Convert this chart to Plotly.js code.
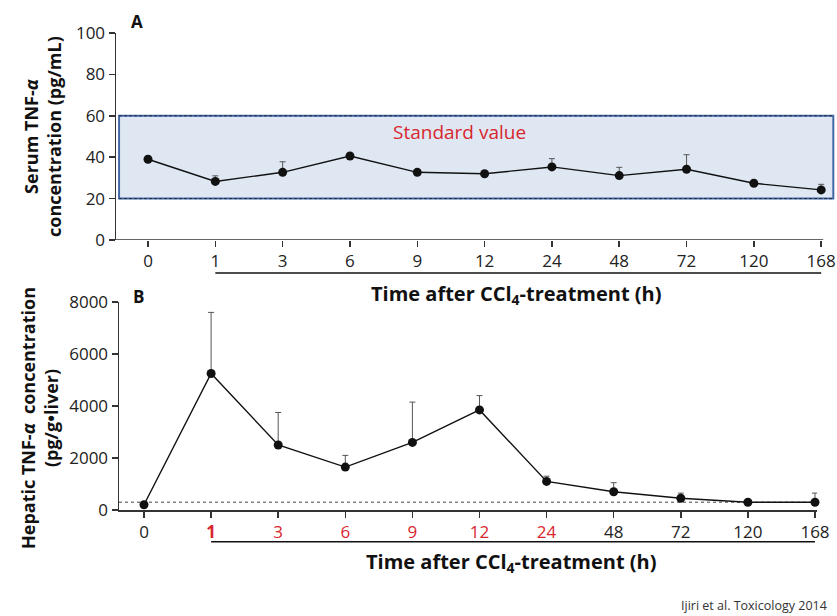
<!DOCTYPE html>
<html>
<head>
<meta charset="utf-8">
<script src="https://cdn.plot.ly/plotly-3.0.1.min.js"></script>
<style>
  html, body { margin: 0; padding: 0; background: #fff; }
  #chart { width: 837px; height: 616px; }
</style>
</head>
<body>
<div id="chart"></div>
<script>
// Sampling times after CCl4 treatment (h)
const hours = ['0', '1', '3', '6', '9', '12', '24', '48', '72', '120', '168'];

// Panel A: serum TNF-alpha (pg/mL), mean and upper SE
const serumMean = [39.0, 28.3, 32.7, 40.6, 32.7, 32.0, 35.3, 31.1, 34.2, 27.4, 24.2];
const serumErr  = [0, 2.7, 5.1, 0, 0, 0, 4.0, 4.0, 7.0, 0, 2.7];

// Normal (standard) range of serum TNF-alpha
const standardRange = [20, 60];

// Panel B: hepatic TNF-alpha (pg/g liver), mean and upper SE
const hepaticMean = [200, 5250, 2500, 1650, 2600, 3850, 1100, 700, 450, 300, 300];
const hepaticErr  = [0, 2350, 1250, 450, 1550, 550, 200, 350, 200, 0, 350];

// Detection limit shown as a dashed line in panel B
const detectionLimit = 300;

// Time points highlighted in red in panel B
const highlightHours = ['1', '3', '6', '9', '12', '24'];

const FONT = '"Open Sans", "Noto Sans", "DejaVu Sans", sans-serif';
const RED = '#d8262e';
const INK = '#222';

const bTickText = hours.map(h => {
  if (!highlightHours.includes(h)) return h;
  const t = h === '1' ? '<b>' + h + '</b>' : h;
  return '<span style="color:' + RED + '">' + t + '</span>';
});

const seriesStyle = {
  mode: 'lines+markers',
  line: { color: '#111', width: 1.4 },
  marker: { color: '#111', size: 9 },
  cliponaxis: false,
  showlegend: false,
  hoverinfo: 'x+y'
};

const traceA = Object.assign({}, seriesStyle, {
  x: hours, y: serumMean, xaxis: 'x', yaxis: 'y',
  error_y: { type: 'data', symmetric: false, array: serumErr,
             arrayminus: serumErr.map(() => 0),
             color: '#555', thickness: 1, width: 3 }
});

const traceB = Object.assign({}, seriesStyle, {
  x: hours, y: hepaticMean, xaxis: 'x2', yaxis: 'y2',
  error_y: { type: 'data', symmetric: false, array: hepaticErr,
             arrayminus: hepaticErr.map(() => 0),
             color: '#555', thickness: 1, width: 3 }
});

const tickFont = { family: FONT, size: 17, color: INK };

const layout = {
  width: 837, height: 616,
  margin: { l: 0, r: 0, t: 0, b: 0 },
  paper_bgcolor: '#fff', plot_bgcolor: 'rgba(0,0,0,0)',
  font: { family: FONT, color: INK },
  showlegend: false,
  xaxis: {
    type: 'category', domain: [116 / 837, 836 / 837], range: [-0.4755, 10.22],
    anchor: 'y', showline: false, showgrid: false, zeroline: false,
    ticks: 'outside', ticklen: 6, tickwidth: 1.5, tickcolor: '#333',
    tickfont: tickFont, fixedrange: true
  },
  yaxis: {
    domain: [1 - 240 / 616, 1 - 33 / 616], range: [0, 100],
    anchor: 'x', tickvals: [0, 20, 40, 60, 80, 100],
    showline: true, linecolor: '#333', linewidth: 1.5,
    showgrid: false, zeroline: false,
    ticks: 'outside', ticklen: 6, tickwidth: 1.5, tickcolor: '#333',
    tickfont: tickFont, fixedrange: true
  },
  xaxis2: {
    type: 'category', domain: [119 / 837, 817 / 837], range: [-0.3726, 10.03],
    anchor: 'y2', showline: true, linecolor: '#333', linewidth: 1.5,
    showgrid: false, zeroline: false,
    ticks: 'outside', ticklen: 6, tickwidth: 1.5, tickcolor: '#333',
    tickmode: 'array', tickvals: hours, ticktext: bTickText,
    tickfont: tickFont, fixedrange: true
  },
  yaxis2: {
    domain: [1 - 510 / 616, 1 - 302 / 616], range: [0, 8000],
    anchor: 'x2', tickvals: [0, 2000, 4000, 6000, 8000],
    showline: true, linecolor: '#333', linewidth: 1.5,
    showgrid: false, zeroline: false,
    ticks: 'outside', ticklen: 6, tickwidth: 1.5, tickcolor: '#333',
    tickfont: tickFont, fixedrange: true
  },
  shapes: [
    // standard-value band
    { type: 'rect', layer: 'below', xref: 'x', yref: 'y',
      x0: -0.43, x1: 10.18, y0: standardRange[0], y1: standardRange[1],
      fillcolor: '#dfe7f3', line: { color: '#4468a6', width: 2 } },
    { type: 'line', layer: 'below', xref: 'x', yref: 'y',
      x0: -0.43, x1: 10.18, y0: standardRange[1], y1: standardRange[1],
      line: { color: '#1d2a44', width: 1, dash: '3px,2px' } },
    { type: 'line', layer: 'below', xref: 'x', yref: 'y',
      x0: -0.43, x1: 10.18, y0: standardRange[0], y1: standardRange[0],
      line: { color: '#1d2a44', width: 1, dash: '3px,2px' } },
    // panel A x-axis baseline (ends at the last time point)
    { type: 'line', xref: 'x', yref: 'y',
      x0: -0.4755, x1: 10.03, y0: 0, y1: 0,
      line: { color: '#333', width: 1.5 } },
    // detection limit in panel B
    { type: 'line', layer: 'below', xref: 'x2', yref: 'y2',
      x0: -0.3726, x1: 10.03, y0: detectionLimit, y1: detectionLimit,
      line: { color: '#444', width: 1, dash: '3px,3px' } },
    // bars marking the post-treatment period
    { type: 'line', xref: 'x', yref: 'paper',
      x0: 1, x1: 10, y0: 1 - 273 / 616, y1: 1 - 273 / 616,
      line: { color: '#111', width: 1.6 } },
    { type: 'line', xref: 'x2', yref: 'paper',
      x0: 1, x1: 10, y0: 1 - 541.7 / 616, y1: 1 - 541.7 / 616,
      line: { color: '#111', width: 1.6 } }
  ],
  annotations: [
    { text: '<b>A</b>', xref: 'paper', yref: 'paper', x: 137 / 837, y: 1 - 22 / 616,
      showarrow: false, xanchor: 'center', yanchor: 'middle',
      font: { family: FONT, size: 17, color: '#111' } },
    { text: '<b>B</b>', xref: 'paper', yref: 'paper', x: 138 / 837, y: 1 - 296 / 616,
      showarrow: false, xanchor: 'center', yanchor: 'middle',
      font: { family: FONT, size: 17, color: '#111' } },
    { text: 'Standard value', xref: 'x', yref: 'y', x: 4.62, y: 52,
      showarrow: false, xanchor: 'center', yanchor: 'middle',
      font: { family: FONT, size: 19, color: RED } },
    { text: '<b>Serum TNF-<i>α</i><br>concentration (pg/mL)</b>',
      xref: 'paper', yref: 'paper', x: 42 / 837, y: 1 - 137 / 616,
      textangle: -90, showarrow: false, xanchor: 'center', yanchor: 'middle',
      font: { family: FONT, size: 18, color: '#111' } },
    { text: '<b>Hepatic TNF-<i>α</i>  concentration<br>(pg/g•liver)</b>',
      xref: 'paper', yref: 'paper', x: 39 / 837, y: 1 - 418 / 616,
      textangle: -90, showarrow: false, xanchor: 'center', yanchor: 'middle',
      font: { family: FONT, size: 18, color: '#111' } },
    { text: '<b>Time after CCl<sub>4</sub>-treatment (h)</b>',
      xref: 'paper', yref: 'paper', x: 516 / 837, y: 1 - 294 / 616,
      showarrow: false, xanchor: 'center', yanchor: 'middle',
      font: { family: FONT, size: 20, color: '#111' } },
    { text: '<b>Time after CCl<sub>4</sub>-treatment (h)</b>',
      xref: 'paper', yref: 'paper', x: 512 / 837, y: 1 - 562 / 616,
      showarrow: false, xanchor: 'center', yanchor: 'middle',
      font: { family: FONT, size: 20, color: '#111' } },
    { text: 'Ijiri et al. Toxicology 2014',
      xref: 'paper', yref: 'paper', x: 829 / 837, y: 1 - 605 / 616,
      showarrow: false, xanchor: 'right', yanchor: 'middle',
      font: { family: FONT, size: 12.5, color: '#333' } }
  ]
};

Plotly.newPlot('chart', [traceA, traceB], layout, { displayModeBar: false, staticPlot: true });
</script>
</body>
</html>
